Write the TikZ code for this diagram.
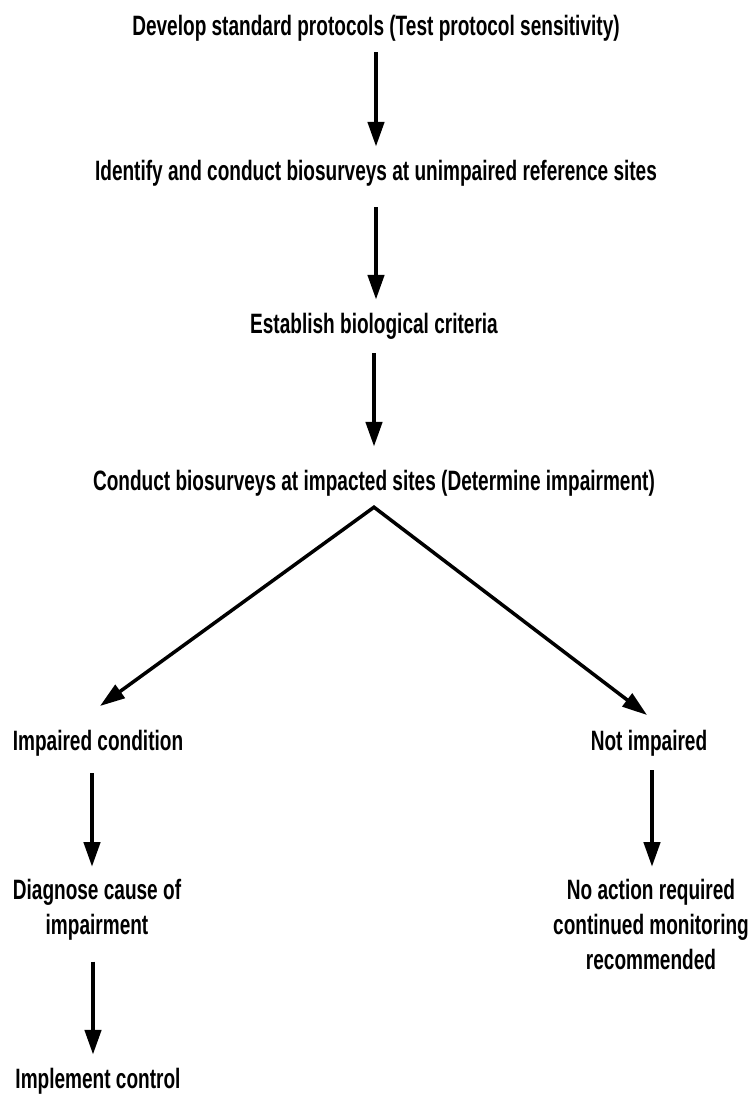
\documentclass[tikz,border=0pt]{standalone}
\usepackage{fontspec}
\newfontfamily\fc{Liberation Sans}[FakeStretch=0.68]
\usetikzlibrary{arrows.meta}
\begin{document}
\begin{tikzpicture}[x=1pt,y=-1pt,
  lbl/.style={font=\fc\bfseries\fontsize{28}{35}\selectfont, inner sep=0pt, text height=20pt, text depth=7pt, anchor=base},
  mlbl/.style={font=\fc\bfseries\fontsize{28}{35}\selectfont, inner sep=0pt, align=center, anchor=north},
  arr/.style={line width=4.5pt, -{Triangle[width=16pt,length=25pt]}},
  diag/.style={line width=3.5pt, line join=miter, {Triangle[width=16pt,length=25pt]}-{Triangle[width=16pt,length=25pt]}}]
\useasboundingbox (0,0) rectangle (755,1095);
\fill[white] (0,0) rectangle (755,1095);

\node[lbl] (t1) at (376,35) {Develop standard protocols (Test protocol sensitivity)};
\node[lbl] (t2) at (376,180) {Identify and conduct biosurveys at unimpaired reference sites};
\node[lbl] (t3) at (374,333) {Establish biological criteria};
\node[lbl] (t4) at (374,490) {Conduct biosurveys at impacted sites (Determine impairment)};

\node[lbl] (l1) at (98,750) {Impaired condition};
\node[mlbl] (l2) at (97,879) {Diagnose cause of\\impairment};
\node[lbl] (l3) at (98,1088) {Implement control};

\node[lbl] (r1) at (649,750) {Not impaired};
\node[mlbl] (r2) at (651,879) {No action required\\continued monitoring\\recommended};

\draw[arr, shorten <=10pt, shorten >=13pt] (t1.south) -- (t2.north);
\draw[arr, shorten <=20pt, shorten >=13pt] (t2.south) -- (t2.south |- t3.north);
\draw[arr, shorten <=13pt, shorten >=23pt] (t3.south) -- (t3.south |- t4.north);

\coordinate (apex) at ([yshift=-10pt]t4.south);
\coordinate (tipL) at (100,706);
\coordinate (tipR) at (647,715);
\draw[diag] (tipL) -- (apex) -- (tipR);

\draw[arr, shorten <=16pt, shorten >=12pt] ([xshift=-6pt]l1.south) -- ([xshift=-6pt]l1.south |- l2.north);
\draw[arr, shorten <=21pt, shorten >=13pt] ([xshift=-4pt]l2.south) -- ([xshift=-4pt]l2.south |- l3.north);
\draw[arr, shorten <=13pt, shorten >=12pt] ([xshift=3pt]r1.south) -- ([xshift=3pt]r1.south |- r2.north);
\end{tikzpicture}
\end{document}
